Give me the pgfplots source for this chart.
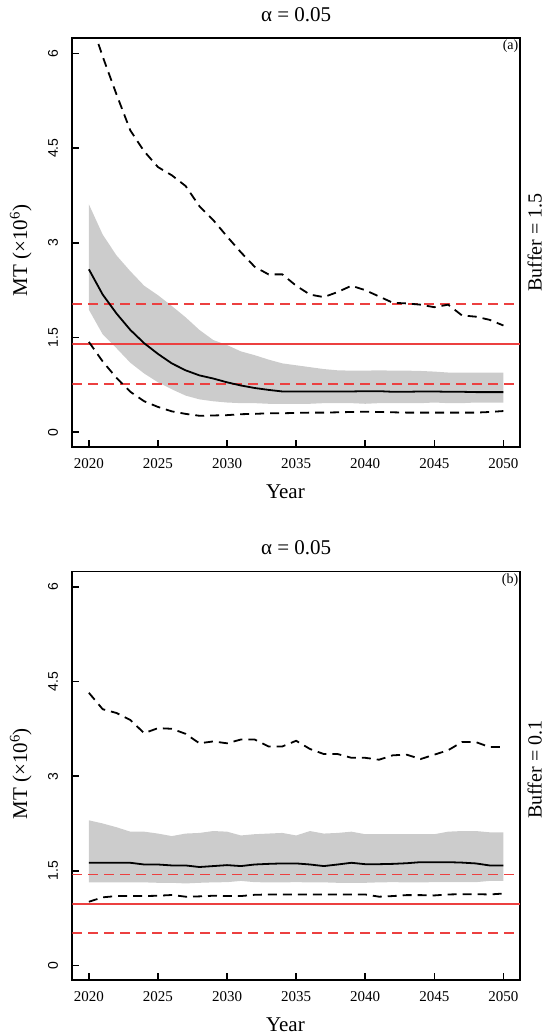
\documentclass[border=0pt]{standalone}
\usepackage{pgfplots}
\pgfplotsset{compat=1.18}
\usepackage{pgfplotstable}
\usepackage{fontspec}
\setmainfont{Liberation Serif}
\newfontfamily\sansf{Liberation Sans}
\definecolor{refred}{RGB}{236,64,64}
\definecolor{band}{RGB}{204,204,204}

% year, upper dashed, band top, median, band bottom, lower dashed
\pgfplotstableread{
year hi qhi med qlo lo
2020 6.60 3.61 2.58 1.94 1.43
2021 5.95 3.13 2.18 1.55 1.12
2022 5.35 2.80 1.88 1.33 0.86
2023 4.78 2.55 1.62 1.10 0.64
2024 4.45 2.32 1.41 0.93 0.49
2025 4.20 2.17 1.24 0.79 0.40
2026 4.07 2.00 1.09 0.68 0.33
2027 3.90 1.82 0.98 0.58 0.29
2028 3.58 1.62 0.90 0.52 0.26
2029 3.36 1.46 0.85 0.49 0.265
2030 3.10 1.38 0.79 0.47 0.27
2031 2.85 1.28 0.74 0.46 0.285
2032 2.62 1.22 0.70 0.46 0.29
2033 2.50 1.15 0.67 0.45 0.30
2034 2.50 1.09 0.645 0.45 0.30
2035 2.32 1.06 0.645 0.45 0.305
2036 2.18 1.03 0.645 0.45 0.31
2037 2.14 1.00 0.645 0.46 0.31
2038 2.22 0.98 0.645 0.46 0.315
2039 2.32 0.975 0.645 0.46 0.32
2040 2.25 0.975 0.65 0.45 0.325
2041 2.15 0.98 0.65 0.46 0.32
2042 2.05 0.975 0.64 0.46 0.315
2043 2.04 0.975 0.64 0.46 0.31
2044 2.02 0.97 0.645 0.46 0.31
2045 1.98 0.96 0.645 0.47 0.31
2046 2.02 0.945 0.64 0.46 0.31
2047 1.85 0.945 0.64 0.46 0.31
2048 1.83 0.945 0.635 0.47 0.31
2049 1.78 0.945 0.635 0.47 0.32
2050 1.69 0.945 0.635 0.47 0.335
}\tabA

\pgfplotstableread{
year hi qhi med qlo lo
2020 4.32 2.30 1.627 1.317 1.01
2021 4.06 2.25 1.627 1.317 1.08
2022 4.00 2.19 1.627 1.317 1.10
2023 3.89 2.12 1.627 1.317 1.10
2024 3.68 2.12 1.60 1.317 1.10
2025 3.76 2.09 1.60 1.31 1.105
2026 3.75 2.05 1.585 1.31 1.117
2027 3.67 2.09 1.585 1.30 1.09
2028 3.52 2.10 1.56 1.31 1.095
2029 3.55 2.13 1.575 1.317 1.105
2030 3.52 2.12 1.59 1.32 1.10
2031 3.58 2.06 1.575 1.34 1.10
2032 3.58 2.08 1.60 1.32 1.12
2033 3.47 2.09 1.61 1.317 1.125
2034 3.47 2.10 1.617 1.317 1.125
2035 3.56 2.06 1.617 1.32 1.125
2036 3.43 2.13 1.60 1.317 1.125
2037 3.35 2.09 1.575 1.317 1.125
2038 3.35 2.10 1.60 1.31 1.125
2039 3.29 2.12 1.627 1.31 1.125
2040 3.29 2.08 1.605 1.31 1.125
2041 3.26 2.08 1.605 1.317 1.09
2042 3.33 2.08 1.61 1.32 1.10
2043 3.34 2.08 1.62 1.317 1.115
2044 3.27 2.08 1.637 1.317 1.115
2045 3.34 2.08 1.637 1.32 1.11
2046 3.41 2.12 1.637 1.32 1.125
2047 3.54 2.13 1.63 1.32 1.13
2048 3.54 2.13 1.617 1.32 1.13
2049 3.46 2.11 1.585 1.34 1.125
2050 3.46 2.11 1.585 1.34 1.14
}\tabB

\pgfplotsset{
  panel/.style={
    width=447.7pt, height=408.4pt, scale only axis,
    anchor=south west, clip mode=individual,
    xmin=2018.8, xmax=2051.2, ymin=-0.23, ymax=6.24,
    xtick={2020,2025,...,2050}, ytick={0,1.5,3,4.5,6},
    tick pos=left, tick align=inside, major tick length=7pt,
    axis line style={line width=1.7pt},
    every tick/.style={black, line width=1.5pt},
    /pgf/number format/assume math mode=true,
    /pgf/number format/1000 sep={},
    xticklabel style={font=\fontsize{15}{17}\selectfont, yshift=-8pt},
    yticklabel style={font=\sansf\fontsize{14}{16}\selectfont, xshift=-14pt, rotate=90, anchor=south, inner sep=0pt},
    title={α = 0.05},
    title style={font=\fontsize{21}{25}\selectfont, at={(axis description cs:0.5,1.043)}, anchor=center},
    xlabel={Year},
    xlabel style={font=\fontsize{21}{25}\selectfont, at={(axis description cs:0.476,-0.110)}, anchor=center},
    ylabel={MT (×10\textsuperscript{6})},
    ylabel style={font=\fontsize{21}{25}\selectfont, anchor=center},
  },
  mid/.style={black, line width=1.8pt},
  qdash/.style={black, line width=1.8pt, dash pattern=on 9pt off 6pt},
  rsol/.style={refred, line width=1.8pt},
  rdash/.style={refred, line width=1.8pt, dash pattern=on 10pt off 6pt},
}

\begin{document}
\begin{tikzpicture}
\useasboundingbox (0pt,0pt) rectangle (545pt,-1035pt);

% panel (a)
\begin{axis}[panel, at={(72.3pt,-446.7pt)},
  ylabel style={at={(axis description cs:-0.115,0.48)}}]
\addplot[draw=none, stack plots=y, forget plot] table[x=year,y=qlo]{\tabA};
\addplot[fill=band, draw=none, stack plots=y] table[x=year,y expr=\thisrow{qhi}-\thisrow{qlo}]{\tabA} \closedcycle;
\addplot[rsol] coordinates {(2018.8,1.398) (2051.2,1.398)};
\addplot[rdash] coordinates {(2018.8,2.031) (2051.2,2.031)};
\addplot[rdash] coordinates {(2018.8,0.765) (2051.2,0.765)};
\addplot[qdash] table[x=year,y=hi]{\tabA};
\addplot[qdash] table[x=year,y=lo]{\tabA};
\addplot[mid] table[x=year,y=med]{\tabA};
\node[anchor=north east, inner sep=1.5pt, font=\fontsize{14}{16}\selectfont] at (rel axis cs:1,1) {(a)};
\node[rotate=90, font=\fontsize{20}{24}\selectfont] at (rel axis cs:1.033,0.5) {Buffer = 1.5};
\end{axis}

% panel (b)
\begin{axis}[panel, at={(72.3pt,-980pt)},
  ylabel style={at={(axis description cs:-0.115,0.505)}}]
\addplot[draw=none, stack plots=y, forget plot] table[x=year,y=qlo]{\tabB};
\addplot[fill=band, draw=none, stack plots=y] table[x=year,y expr=\thisrow{qhi}-\thisrow{qlo}]{\tabB} \closedcycle;
\addplot[rsol] coordinates {(2018.8,0.974) (2051.2,0.974)};
\addplot[rdash] coordinates {(2018.8,1.443) (2051.2,1.443)};
\addplot[rdash] coordinates {(2018.8,0.511) (2051.2,0.511)};
\addplot[qdash] table[x=year,y=hi]{\tabB};
\addplot[qdash] table[x=year,y=lo]{\tabB};
\addplot[mid] table[x=year,y=med]{\tabB};
\node[anchor=north east, inner sep=1.5pt, font=\fontsize{14}{16}\selectfont] at (rel axis cs:1,1) {(b)};
\node[rotate=90, font=\fontsize{20}{24}\selectfont] at (rel axis cs:1.033,0.515) {Buffer = 0.1};
\end{axis}
\end{tikzpicture}
\end{document}
